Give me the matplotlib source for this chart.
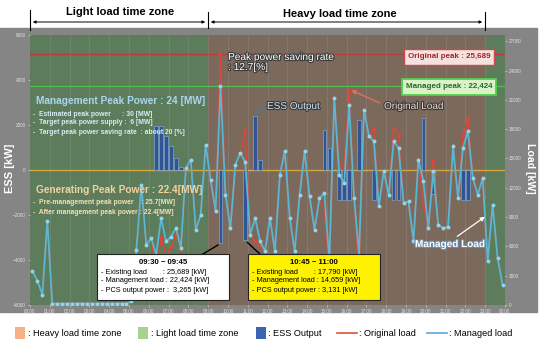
import numpy as np
import matplotlib
matplotlib.use("Agg")
import matplotlib.pyplot as plt
import matplotlib.patheffects as pe
from matplotlib.patches import Rectangle
from matplotlib.lines import Line2D

plt.rcParams['font.family'] = ['Liberation Sans', 'DejaVu Sans']

# 15-minute interval start times (hours)
hours = np.arange(96) * 0.25

# managed load [kW], one value per 15-minute interval
managed_load = [
    3480, 2460, 1050, 8600, 150, 150, 150, 150, 150, 150, 150, 150,
    150, 150, 150, 150, 150, 150, 150, 150, 400, 5600, 12300, 6170,
    6860, 5150, 8900, 6520, 7000, 7880, 5830, 14020, 14880, 7710, 9240, 16400,
    12800, 9620, 22424, 11290, 7880, 14360, 15560, 14659, 7200, 8900, 6520, 5530,
    8900, 5500, 13340, 15730, 8900, 5500, 11290, 15730, 11130, 7710, 10950, 11460,
    4500, 21190, 13340, 12490, 20500, 11000, 5150, 20000, 17270, 16760, 10100, 13680,
    11290, 16760, 16070, 10440, 10610, 6520, 14880, 12660, 7880, 13680, 8220, 7880,
    8000, 16240, 10950, 16070, 17780, 13000, 11290, 13000, 4470, 10270, 4810, 2080,
]

# ESS output [kW] (+ charge, - discharge)
ess_t = [6.25, 6.5, 6.75, 7.0, 7.25, 7.5, 9.5, 10.75, 11.25, 11.5,
         14.75, 15.0, 15.5, 15.75, 16.0, 16.5, 17.25, 18.25, 18.5,
         19.75, 20.25, 21.75, 22.0]
ess_v = [1950, 1950, 1500, 1050, 550, 150, -3265, -3131, 2390, 450,
         1790, 970, -1343, -1343, -1343, 2240, -1343, -1343, -1343,
         2310, -1045, -1343, -1343]

# original load where it differs from managed load [kW]
orig_t = [6.25, 6.5, 6.75, 7.0, 7.25, 7.5, 9.5, 10.75, 11.25, 11.5,
          14.75, 15.0, 15.5, 15.75, 16.0, 16.5, 17.25, 18.25, 18.5,
          19.75, 20.25, 21.75, 22.0]
orig_v = [3200, 6950, 5020, 5950, 7330, 5680, 25689, 17790, 6510, 6070,
          9670, 3530, 14680, 13830, 21870, 2910, 18100, 18100, 17410,
          10350, 14725, 17410, 19120]

original_peak = 25689
managed_peak = 22424
xtick_labels = ['%02d:00' % (h % 24) for h in range(25)]

orig_load = list(managed_load)
for t, v in zip(orig_t, orig_v):
    orig_load[int(round(t / 0.25))] = v

W, H = 540, 343


def fp(x, y):
    return (x / W, 1 - y / H)


fig = plt.figure(figsize=(5.4, 3.43), dpi=100)
fig.patches.append(Rectangle(fp(0, 312), 537 / W, (312 - 28) / H,
                             transform=fig.transFigure, color='#858585', zorder=-5))

ax = fig.add_axes([30 / W, 1 - 305 / H, 475 / W, 270 / H])
ax2 = ax.twinx()

green = '#5c7c5c'
brown = '#7b6a5c'
ax.axvspan(0, 9, color=green, lw=0)
ax.axvspan(9, 23, color=brown, lw=0)
ax.axvspan(23, 24, color=green, lw=0)
for h in range(1, 24):
    ax.axvline(h, color='#b0b0b0', lw=0.4, alpha=0.35)

ax.axhline(0, color='#d6a63a', lw=1.0)
mid = 0.125
ax.bar(np.array(ess_t) + mid, ess_v, width=0.18, color='#2f5597',
       edgecolor='#8fb4e0', linewidth=0.4, zorder=3)
ax.set_xlim(0, 24)
ax.set_ylim(-6000, 6000)
ax.set_yticks(np.arange(-6000, 6001, 2000))
ax.set_xticks(range(25))
ax.set_xticklabels(xtick_labels)

ax2.axhline(original_peak, color='#b83a3a', lw=0.9)
ax2.axhline(managed_peak, color='#4fc04f', lw=0.9)
ax2.plot(hours + mid, orig_load, color='#e0453a', lw=1.0, marker='o', ms=1.6)
ax2.plot(hours + mid, managed_load, color='#5ab6d2', lw=1.3, marker='o', ms=1.8,
         mfc='#8fd6e8', mec='#8fd6e8')
ax2.set_ylim(0, 27640)
ax2.set_yticks(np.arange(0, 27001, 3000))

for a in (ax, ax2):
    for s in a.spines.values():
        s.set_visible(False)
    a.tick_params(labelsize=3.3, colors='#e0e0e0', length=1.5, width=0.4, pad=1.5)

fig.text(*fp(10, 168), 'ESS [kW]', rotation=90, ha='center', va='center',
         color='white', fontsize=8, fontweight='bold')
fig.text(*fp(530, 168), 'Load [kW]', rotation=270, ha='center', va='center',
         color='white', fontsize=7.6, fontweight='bold')

# header time zones
fig.text(*fp(120, 12), 'Light load time zone', ha='center', va='center',
         fontsize=8, fontweight='bold')
fig.text(*fp(340, 14), 'Heavy load time zone', ha='center', va='center',
         fontsize=8, fontweight='bold')
for x0, y0, y1 in [(30, 10, 30), (208, 12, 28), (485, 12, 30)]:
    fig.add_artist(Line2D([x0 / W, x0 / W], [1 - y0 / H, 1 - y1 / H],
                          color='black', lw=0.8))
for x0, x1 in [(30, 208), (208, 485)]:
    fig.add_artist(plt.Annotation('', xy=fp(x1, 22), xytext=fp(x0, 22),
                                  xycoords='figure fraction',
                                  arrowprops=dict(arrowstyle='<|-|>', color='black',
                                                  lw=0.7, mutation_scale=4)))

# light zone notes
fig.text(*fp(36, 101), 'Management Peak Power : 24 [MW]', color='#a9d6f0',
         fontsize=7.3, fontweight='bold', va='center')
notes1 = ['-  Estimated peak power      : 30 [MW]',
          '-  Target peak power supply :  6 [MW]',
          '-  Target peak power saving rate  : about 20 [%]']
for i, s in enumerate(notes1):
    fig.text(*fp(33, 114 + 9 * i), s, color='#d6ecf6', fontsize=4.9,
             fontweight='bold', va='center')
fig.text(*fp(36, 190), 'Generating Peak Power : 22.4[MW]', color='#f3d2a0',
         fontsize=7.3, fontweight='bold', va='center')
notes2 = ['-  Pre-management peak power    : 25.7[MW]',
          '-  After management peak power : 22.4[MW]']
for i, s in enumerate(notes2):
    fig.text(*fp(33, 203 + 9 * i), s, color='#f5e2b6', fontsize=4.9,
             fontweight='bold', va='center')

outline = [pe.withStroke(linewidth=1.6, foreground='#3a3a3a')]
fig.text(*fp(228, 62), 'Peak power saving rate\n: 12.7[%]', color='white',
         fontsize=7.3, va='center', linespacing=1.0, path_effects=outline)
fig.text(*fp(267, 106), 'ESS Output', color='#cfe2f3', fontsize=7.2,
         va='center', path_effects=outline)
fig.text(*fp(384, 106), 'Original Load', color='#ead6d2', fontsize=7.2,
         va='center', path_effects=outline)
fig.text(*fp(415, 244), 'Managed Load', color='white', fontsize=7.2,
         fontweight='bold', va='center',
         path_effects=[pe.withStroke(linewidth=1.6, foreground='#6a8aa8')])

ax.annotate('', xy=(11.4, 2390), xytext=(265, H - 106), textcoords='figure pixels',
            arrowprops=dict(arrowstyle='-', color='#4a78b8', lw=1))
ax2.annotate('', xy=(16.1, 22100), xytext=(382, H - 104), textcoords='figure pixels',
             arrowprops=dict(arrowstyle='-|>', color='#e07060', lw=1, mutation_scale=6))
ax2.annotate('', xy=(23.1, 9200), xytext=(455, H - 238), textcoords='figure pixels',
             arrowprops=dict(arrowstyle='-|>', color='white', lw=0.9, mutation_scale=6))

# peak boxes
fig.text(*fp(449, 57), 'Original peak : 25,689', ha='center', va='center',
         color='#9a2a2a', fontsize=5.8, fontweight='bold',
         bbox=dict(boxstyle='square,pad=0.5', fc='#f7e1df', ec='#c84a4a', lw=1))
fig.text(*fp(449, 87), 'Managed peak : 22,424', ha='center', va='center',
         color='#2a6a2a', fontsize=5.8, fontweight='bold',
         bbox=dict(boxstyle='square,pad=0.5', fc='#d9f2c6', ec='#52d04a', lw=1.3))

# detail boxes
ax.annotate('', xy=(9.625, -3265), xytext=(198, H - 257), textcoords='figure pixels',
            arrowprops=dict(arrowstyle='-', color='black', lw=1))
ax.annotate('', xy=(10.875, -3131), xytext=(262, H - 256), textcoords='figure pixels',
            arrowprops=dict(arrowstyle='-', color='black', lw=1))

boxes = [
    (97, 'white', '09:30 ~ 09:45',
     ['- Existing load        : 25,689 [kW]',
      '- Management load : 22,424 [kW]',
      '- PCS output power :  3,265 [kW]']),
    (248, '#fff200', '10:45 ~ 11:00',
     ['- Existing load        : 17,790 [kW]',
      '- Management load : 14,659 [kW]',
      '- PCS output power : 3,131 [kW]']),
]
for x0, fc, head, lines in boxes:
    fig.patches.append(Rectangle(fp(x0, 300), 132 / W, 46 / H, transform=fig.transFigure,
                                 fc=fc, ec='#222222', lw=0.8, zorder=4))
    fig.text(*fp(x0 + 66, 262), head, ha='center', va='center', fontsize=5.6,
             fontweight='bold', zorder=5)
    for i, s in enumerate(lines):
        fig.text(*fp(x0 + 4, 272 + 9 * i), s, va='center', fontsize=5.3, zorder=5)

# legend row
ly = 333
fig.patches.append(Rectangle(fp(15, ly + 6), 10 / W, 12 / H, transform=fig.transFigure,
                             fc='#f4b183', lw=0))
fig.patches.append(Rectangle(fp(138, ly + 6), 10 / W, 12 / H, transform=fig.transFigure,
                             fc='#a9d18e', lw=0))
fig.patches.append(Rectangle(fp(256, ly + 6), 10 / W, 12 / H, transform=fig.transFigure,
                             fc='#3d64b0', lw=0))
fig.add_artist(Line2D([337 / W, 357 / W], [1 - ly / H] * 2, color='#e0503c', lw=1.2))
fig.add_artist(Line2D([427 / W, 447 / W], [1 - ly / H] * 2, color='#5aa8d8', lw=1.2))
for x0, s in [(28, ': Heavy load time zone'), (151, ': Light load time zone'),
              (268, ': ESS Output'), (359, ': Original load'), (449, ': Managed load')]:
    fig.text(*fp(x0, ly), s, va='center', fontsize=6.6)

fig.savefig('out.png', dpi=100)
